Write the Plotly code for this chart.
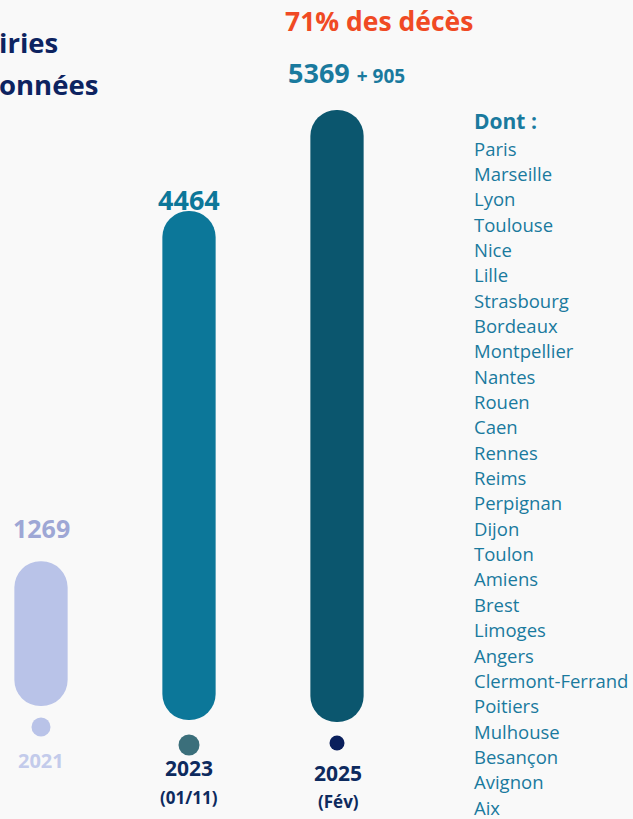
import plotly.graph_objects as go

# ---- data ----
years = ["2021", "2023", "2025"]
values = [1269, 4464, 5369]
value_labels = ["1269", "4464", "5369"]
extra_2025 = "+ 905"
year_sub = ["", "(01/11)", "(Fév)"]
cities = ["Paris", "Marseille", "Lyon", "Toulouse", "Nice", "Lille", "Strasbourg",
          "Bordeaux", "Montpellier", "Nantes", "Rouen", "Caen", "Rennes", "Reims",
          "Perpignan", "Dijon", "Toulon", "Amiens", "Brest", "Limoges", "Angers",
          "Clermont-Ferrand", "Poitiers", "Mulhouse", "Besançon", "Avignon", "Aix"]
headline = "71% des décès"
title_lines = ["iries", "onnées"]   # visible (cropped) part of the title

# ---- style ----
W, H = 633, 819
FONT = "Open Sans"
BG = "#f9f9f9"
bar_colors = ["#b9c3e8", "#0c7799", "#0b566e"]
dot_colors = ["#b9c3e8", "#3b6f7b", "#0a1f5c"]
dot_sizes = [19, 21, 15]
label_colors = ["#9ea7d5", "#0c7799", "#1a7a9e"]
year_colors = ["#c3cbeb", "#0d2a5e", "#0d2a5e"]
NAVY = "#0d2360"
TEAL = "#1a7a9e"
ORANGE = "#f04a24"

PX0 = 41.0       # pixel x of first category
STEP = 148.0     # pixels between categories
BASE_PX = 720.0  # pixel y of baseline
K = 0.114        # pixels per unit
bar_lift_px = [14, 0, -2]

def y_of_px(py):
    return (BASE_PX - py) / K

x_range = [-PX0 / STEP, (W - PX0) / STEP]
y_range = [y_of_px(H), y_of_px(0)]

xs = list(range(len(years)))
bases = [l / K for l in bar_lift_px]

fig = go.Figure()
fig.add_trace(go.Bar(x=xs, y=values, base=bases, width=0.36, opacity=1,
                     marker=dict(color=bar_colors, cornerradius="50%", line=dict(width=0)),
                     hoverinfo="skip"))

# dots under bars
dot_px = [727, 745, 743]
fig.add_trace(go.Scatter(x=xs, y=[y_of_px(p) for p in dot_px], mode="markers", opacity=1,
                         marker=dict(size=dot_sizes, color=dot_colors, opacity=1, line=dict(width=0)),
                         hoverinfo="skip"))

ann = []
# value labels above bars
label_gap = [33, 12, 37]
label_sizes = [25, 27, 27]
for i, (x, v) in enumerate(zip(xs, values)):
    if i == 2:
        txt = ("<b>" + value_labels[i] + "</b> <b><span style='font-size:19px'>"
               + extra_2025 + "</span></b>")
        xs_shift = 9
    else:
        txt = "<b>" + value_labels[i] + "</b>"
        xs_shift = 0
    ann.append(dict(x=x, y=v + bases[i], xref="x", yref="y", text=txt, showarrow=False,
                    yshift=label_gap[i], xshift=xs_shift, yanchor="middle", xanchor="center",
                    font=dict(family=FONT, size=label_sizes[i], color=label_colors[i])))

# year labels
year_px = [760, 768, 773]
year_sizes = [20, 21, 21]
sub_px = [0, 797, 801]
for i, x in enumerate(xs):
    ann.append(dict(x=x, y=y_of_px(year_px[i]), xref="x", yref="y",
                    text="<b>" + years[i] + "</b>", showarrow=False,
                    xshift=[0, 0, 1][i],
                    font=dict(family=FONT, size=year_sizes[i], color=year_colors[i])))
    if year_sub[i]:
        ann.append(dict(x=x, y=y_of_px(sub_px[i]), xref="x", yref="y",
                        text="<b>" + year_sub[i] + "</b>", showarrow=False,
                        xshift=[0, 0, 1][i],
                        font=dict(family=FONT, size=17, color=year_colors[i])))

# headline
ann.append(dict(x=283 / W, y=1 - 21 / H, xref="paper", yref="paper", text="<b>" + headline + "</b>",
                showarrow=False, xanchor="left", yanchor="middle",
                font=dict(family=FONT, size=26.5, color=ORANGE)))

# title (visible part at the left edge)
title_px = [(0, 42), (0, 85)]
for (rx, ry), t in zip(title_px, title_lines):
    ann.append(dict(x=rx / W, y=1 - ry / H, xref="paper", yref="paper", text="<b>" + t + "</b>",
                    showarrow=False, xanchor="left", yanchor="middle", xshift=-3,
                    font=dict(family=FONT, size=27.5, color=NAVY)))

# city list
ann.append(dict(x=472 / W, y=1 - 121 / H, xref="paper", yref="paper", text="<b>Dont :</b>",
                showarrow=False, xanchor="left", yanchor="middle",
                font=dict(family=FONT, size=21, color=TEAL)))
CITY_TOP, CITY_STEP = 148.0, 25.35
for j, c in enumerate(cities):
    ann.append(dict(x=472 / W, y=1 - (CITY_TOP + j * CITY_STEP) / H, xref="paper", yref="paper",
                    text=c, showarrow=False, xanchor="left", yanchor="middle",
                    font=dict(family=FONT, size=18.5, color=TEAL)))

fig.update_layout(
    width=W, height=H, margin=dict(l=0, r=0, t=0, b=0),
    paper_bgcolor=BG, plot_bgcolor=BG, showlegend=False,
    barmode="overlay", annotations=ann,
    xaxis=dict(range=x_range, visible=False, fixedrange=True),
    yaxis=dict(range=y_range, visible=False, fixedrange=True),
)
fig.write_html("out.html", config={"displayModeBar": False})
